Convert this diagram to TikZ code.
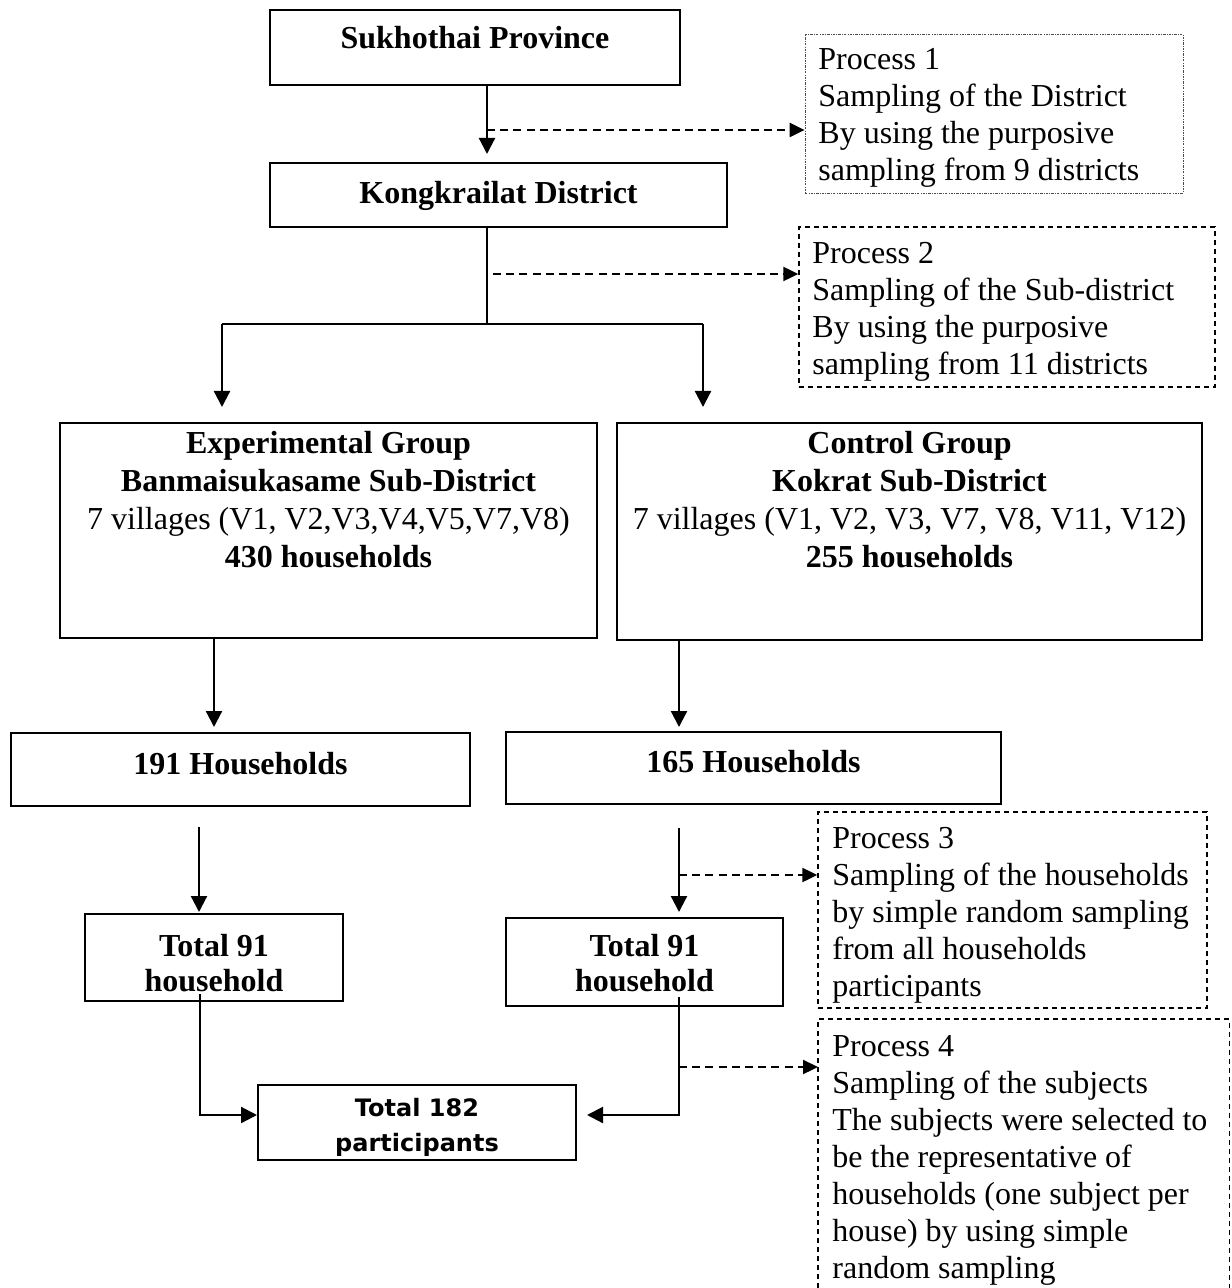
\documentclass[tikz,border=0pt]{standalone}
\usepackage{fontspec}
\setmainfont{Liberation Serif}
\newfontfamily\tahomaf{DejaVu Sans}
\usetikzlibrary{arrows.meta,calc}
\tikzset{
  box/.style={draw, line width=1pt, inner sep=0pt},
  conn/.style={line width=1.1pt},
  arr/.style={line width=1.1pt, -{Triangle[length=8pt,width=8pt]}},
  darr/.style={line width=1.1pt, dash pattern=on 4pt off 2.6pt, -{Triangle[length=7.5pt,width=7pt]}},
  pdotbox/.style={draw=black!70, line width=0.4pt, dash pattern=on 1.2pt off 0.6pt on 0.4pt off 0.6pt, inner sep=0pt},
  pdashbox/.style={line width=0.7pt, dash pattern=on 2.5pt off 2pt},
  ptxt/.style={font=\fontsize{16}{18.5}\selectfont, inner sep=0pt, align=left, anchor=north west},
  btxt/.style={font=\fontsize{16}{19}\selectfont, inner sep=0pt, align=center},
  ttxt/.style={font=\fontsize{16}{17.5}\selectfont\bfseries, inner sep=0pt, align=center, anchor=north},
  stxt/.style={font=\tahomaf\bfseries\fontsize{12}{17.5}\selectfont, inner sep=0pt, align=center, anchor=north},
}
\begin{document}
\begin{tikzpicture}[x=0.5pt,y=-0.5pt]
\fill[white] (0,0) rectangle (1231,1288);
\useasboundingbox (0,0) rectangle (1231,1288);

% boxes
\node[box, minimum width=205pt, minimum height=37.5pt] (suk) at (475,47.5) {};
\node[btxt, anchor=base, font=\fontsize{16}{19}\selectfont\bfseries] (sukT) at (475,49) {Sukhothai Province};

\node[box, minimum width=228.5pt, minimum height=32pt] (kong) at (498.5,195) {};
\node[btxt, anchor=base, font=\fontsize{16}{19}\selectfont\bfseries] (kongT) at (498.5,204) {Kongkrailat District};

\node[pdotbox, minimum width=189pt, minimum height=79.5pt] (p1) at (994,113.5) {};
\node[ptxt] (p1T) at (818,48) {Process 1\\Sampling of the District\\By using the purposive\\sampling from 9 districts};

\node[draw, pdashbox, inner sep=0pt, minimum width=208pt, minimum height=80pt] (p2) at (1007,307) {};
\node[ptxt] (p2T) at (812,242) {Process 2\\Sampling of the Sub-district\\By using the purposive\\sampling from 11 districts};

\node[box, minimum width=268.5pt, minimum height=107.5pt] (exp) at (328.5,530.5) {};
\node[btxt, anchor=north] (expT) at (328.5,431) {\textbf{Experimental Group}\\\textbf{Banmaisukasame Sub-District}\\7 villages (V1, V2,V3,V4,V5,V7,V8)\\\textbf{430 households}};

\node[box, minimum width=292.5pt, minimum height=108.5pt] (ctl) at (909.5,531.5) {};
\node[btxt, anchor=north] (ctlT) at (909.5,431) {\textbf{Control Group}\\\textbf{Kokrat Sub-District}\\7 villages (V1, V2, V3, V7, V8, V11, V12)\\\textbf{255 households}};

\node[box, minimum width=229.5pt, minimum height=36.5pt] (h191) at (240.5,769.5) {};
\node[btxt, anchor=base, font=\fontsize{16}{19}\selectfont\bfseries] (h191T) at (240.5,774) {191 Households};

\node[box, minimum width=247.5pt, minimum height=36pt] (h165) at (753.5,768) {};
\node[btxt, anchor=base, font=\fontsize{16}{19}\selectfont\bfseries] (h165T) at (753.5,772) {165 Households};

\node[draw, pdashbox, inner sep=0pt, minimum width=194.5pt, minimum height=98pt] (p3) at (1012.5,910) {};
\node[ptxt] (p3T) at (832,827) {Process 3\\Sampling of the households\\by simple random sampling\\from all households\\participants};

\node[box, minimum width=129pt, minimum height=43.5pt] (t91L) at (214,957.5) {};
\node[ttxt] (t91LT) at (214,934) {Total 91\\household};

\node[box, minimum width=138.5pt, minimum height=44pt] (t91R) at (644.5,962) {};
\node[ttxt] (t91RT) at (644.5,934) {Total 91\\household};

\node[box, minimum width=159pt, minimum height=37.5pt] (t182) at (417,1122.5) {};
\node[stxt] (t182T) at (417,1098) {Total 182\\participants};

% process 4 (open box running off the page)
\coordinate (p4bl) at (818,1288);
\coordinate (p4tl) at (818,1019);
\coordinate (p4tr) at (1229.5,1019);
\coordinate (p4br) at (1229.5,1288);
\draw[pdashbox] (p4bl) -- (p4tl) -- (p4tr) -- (p4br);
\node[ptxt] (p4T) at (832,1035) {Process 4\\Sampling of the subjects\\The subjects were selected to\\be the representative of\\households (one subject per\\house) by using simple\\random sampling};
\coordinate (p4w) at (818,1067);

% connectors
\coordinate (a1) at ([xshift=6pt]suk.south);
\draw[arr, shorten >=4pt] (a1) -- (a1 |- kong.north);
\coordinate (q1) at ([yshift=-8.25pt]p1.west);
\draw[darr] (a1 |- q1) -- (q1);

\coordinate (b1) at ([xshift=-5.75pt]kong.south);
\path (b1) ++(0,96) coordinate (b2);
\draw[conn] (b1) -- (b2);
\coordinate (eL) at ([xshift=-53.25pt]exp.north);
\coordinate (cR) at ([xshift=-103.25pt]ctl.north);
\draw[conn] (b2 -| eL) -- (b2 -| cR);
\draw[arr, shorten >=7.5pt] (b2 -| eL) -- (eL);
\draw[arr, shorten >=7.5pt] (b2 -| cR) -- (cR);
\coordinate (q2) at ([yshift=16.5pt]p2.west);
\path (b1 |- q2) coordinate (q2s);
\draw[darr] ([xshift=3pt]q2s) -- (q2);

\coordinate (c1) at ([xshift=-57.25pt]exp.south);
\draw[arr, shorten >=2.5pt] (c1) -- (c1 |- h191.north);
\coordinate (d1) at ([xshift=-115.25pt]ctl.south);
\draw[arr, shorten >=2pt] (d1) -- (d1 |- h165.north);

\coordinate (e1) at ([xshift=-20.75pt]h191.south);
\draw[arr, shorten <=10pt, shorten >=0.5pt] (e1) -- (e1 |- t91L.north);
\coordinate (f1) at ([xshift=-37.25pt]h165.south);
\draw[arr, shorten <=11.5pt, shorten >=2.5pt] (f1) -- (f1 |- t91R.north);
\coordinate (q3) at ([yshift=17.5pt]p3.west);
\draw[darr] (f1 |- q3) -- (q3);

\coordinate (g1) at ([xshift=-7pt,yshift=4pt]t91L.south);
\coordinate (q4) at ([yshift=3.75pt]t182.west);
\draw[arr] (g1) -- (g1 |- q4) -- (q4);
\coordinate (h1) at ([xshift=17.25pt,yshift=5pt]t91R.south);
\coordinate (q5) at ([yshift=3.75pt]t182.east);
\draw[arr, shorten >=5pt] (h1) -- (h1 |- q5) -- (q5);
\draw[darr] (h1 |- p4w) -- (p4w);
\end{tikzpicture}
\end{document}
